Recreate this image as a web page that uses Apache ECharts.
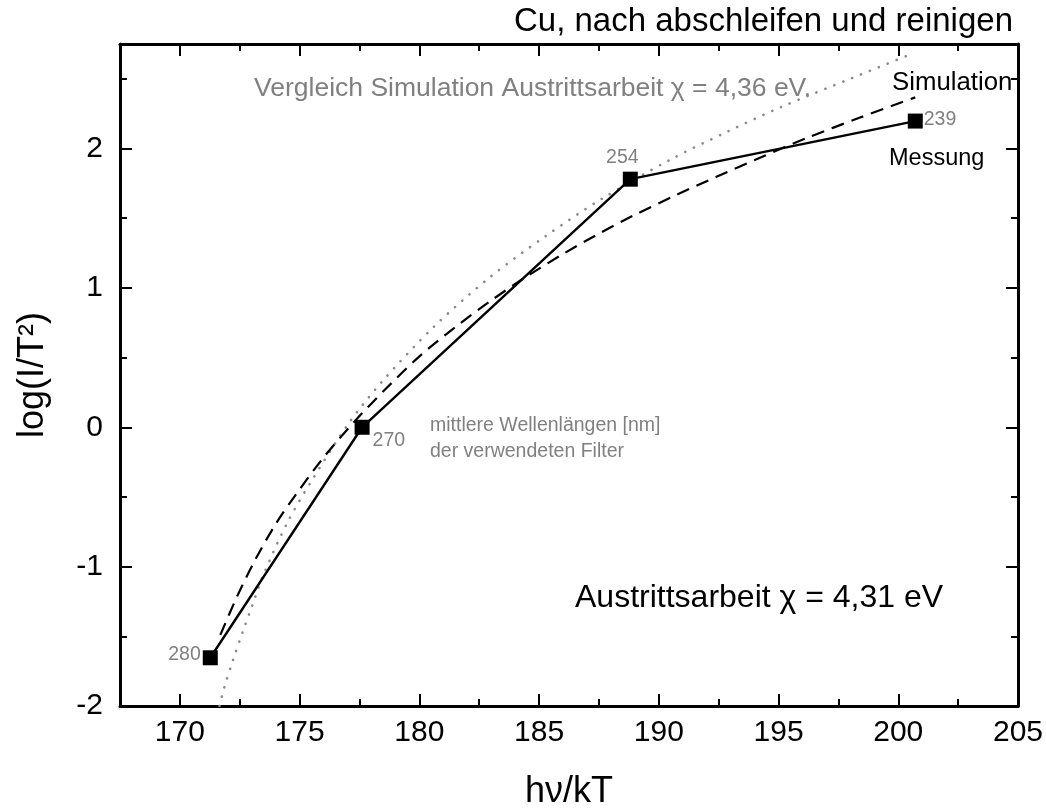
<!DOCTYPE html>
<html>
<head>
<meta charset="utf-8">
<script src="https://cdn.jsdelivr.net/npm/echarts@6/dist/echarts.min.js"></script>
<style>html,body{margin:0;padding:0;background:#fff}#c{width:1046px;height:809px}</style>
</head>
<body>
<div id="c"></div>
<script>
// ---- data ----
const xMajorTicks = [170, 175, 180, 185, 190, 195, 200, 205];
const xMinorTicks = [172.5, 177.5, 182.5, 187.5, 192.5, 197.5, 202.5];
const yMajorTicks = [-2, -1, 0, 1, 2];
const yMinorTicks = [-1.5, -0.5, 0.5, 1.5, 2.5];

// Messung (measured, with filter wavelengths in nm)
const messX = [171.27, 177.61, 188.81, 200.71];
const messY = [-1.654, 0.0, 1.78, 2.197];
const messLabels = ['280', '270', '254', '239'];

// Simulation (dashed)
const simX = [171.69, 172.4, 173.15, 174.0, 174.89, 176.0, 177.26, 178.6, 180.04, 181.5, 182.97, 184.4, 185.89, 187.4, 188.95, 190.7, 192.43, 194.3, 196.19, 198.4, 200.71];
const simY = [-1.49, -1.21, -0.95, -0.695, -0.472, -0.217, 0.035, 0.276, 0.514, 0.718, 0.906, 1.073, 1.232, 1.38, 1.52, 1.664, 1.799, 1.94, 2.076, 2.222, 2.367];

// Vergleich Simulation chi = 4,36 eV (dotted)
const cmpX = [171.66, 171.85, 172.22, 172.62, 173.02, 173.46, 174.5, 175.52, 177.05, 178.44, 180.6, 182.9, 185.26, 187.63, 190.48, 192.85, 195.14, 198.13, 200.43];
const cmpY = [-2.0, -1.87, -1.67, -1.47, -1.28, -1.07, -0.68, -0.379, 0.028, 0.327, 0.72, 1.07, 1.37, 1.64, 1.92, 2.12, 2.30, 2.51, 2.67];

// ---- chart ----
const FONT = "'Liberation Sans', Arial, sans-serif";
const GRAY = '#808080';
const xMin = 167.5, xMax = 205, yMin = -2, yMax = 2.75;

function pairs(xs, ys) { return xs.map((x, i) => [x, ys[i]]); }

function xAx(pos, ticks, len, showLabel, showLine) {
  return {
    type: 'value', position: pos, min: xMin, max: xMax,
    splitLine: { show: false },
    axisLine: { show: showLine, onZero: false, lineStyle: { color: '#000', width: 3 } },
    axisTick: { show: true, inside: true, length: len, customValues: ticks, lineStyle: { color: '#000', width: 2 } },
    axisLabel: showLabel ? { show: true, customValues: ticks, color: '#000', fontSize: 30, fontFamily: FONT, margin: 12 } : { show: false }
  };
}
function yAx(pos, ticks, len, showLabel, showLine) {
  return {
    type: 'value', position: pos, min: yMin, max: yMax,
    splitLine: { show: false },
    axisLine: { show: showLine, onZero: false, lineStyle: { color: '#000', width: 3 } },
    axisTick: { show: true, inside: true, length: len, customValues: ticks, lineStyle: { color: '#000', width: 2 } },
    axisLabel: showLabel ? { show: true, customValues: ticks, color: '#000', fontSize: 30, fontFamily: FONT, margin: 17 } : { show: false }
  };
}

const xAxes = [
  Object.assign(xAx('bottom', xMajorTicks, 12, true, true), {
    name: 'hν/kT', nameLocation: 'middle', nameGap: 68,
    nameTextStyle: { fontSize: 36, fontFamily: FONT, color: '#000' }
  }),
  xAx('bottom', xMinorTicks, 7, false, false),
  xAx('top', xMajorTicks, 12, false, true),
  xAx('top', xMinorTicks, 7, false, false)
];
const yAxes = [
  Object.assign(yAx('left', yMajorTicks, 12, true, true), {
    name: 'log(I/T²)', nameLocation: 'middle', nameGap: 69, nameRotate: 90,
    nameTextStyle: { fontSize: 36, fontFamily: FONT, color: '#000' }
  }),
  yAx('left', yMinorTicks, 7, false, false),
  yAx('right', yMajorTicks, 12, false, true),
  yAx('right', yMinorTicks, 7, false, false)
];

const labelCfg = [
  { position: 'left', distance: 2, offset: [0, -3] },
  { position: 'right', distance: 3, offset: [0, 13] },
  { position: 'top', distance: 4, offset: [-8, 0] },
  { position: 'right', distance: 1, offset: [0, -1] }
];
const messData = messX.map((x, i) => ({
  value: [x, messY[i]],
  label: Object.assign({ show: true, formatter: messLabels[i], color: GRAY, fontSize: 19.5, fontFamily: FONT }, labelCfg[i])
}));

function txt(x, y, text, size, color, align) {
  return { type: 'text', x: x, y: y, z: 10,
    style: { text: text, fontSize: size, fontFamily: FONT, fill: color, align: align || 'left', verticalAlign: 'middle' } };
}

const option = {
  animation: false,
  backgroundColor: '#fff',
  grid: { left: 120, top: 44, width: 898, height: 662, containLabel: false, outerBoundsMode: 'none' },
  xAxis: xAxes,
  yAxis: yAxes,
  series: [
    {
      name: 'Vergleich', type: 'line', xAxisIndex: 0, yAxisIndex: 0,
      data: pairs(cmpX, cmpY), symbol: 'none', smooth: 0.3, z: 2,
      lineStyle: { color: '#888', width: 2.6, type: [0.1, 9.5], cap: 'round' }
    },
    {
      name: 'Simulation', type: 'line', xAxisIndex: 0, yAxisIndex: 0,
      data: pairs(simX, simY), symbol: 'none', smooth: 0.3, z: 3,
      lineStyle: { color: '#000', width: 2.2, type: [13, 8] }
    },
    {
      name: 'Messung', type: 'line', xAxisIndex: 0, yAxisIndex: 0,
      data: messData, symbol: 'rect', symbolSize: 15, z: 4,
      itemStyle: { color: '#000' },
      lineStyle: { color: '#000', width: 2.4 }
    }
  ],
  graphic: [
    txt(1013, 22, 'Cu, nach abschleifen und reinigen', 33, '#000', 'right'),
    txt(254, 89, 'Vergleich Simulation Austrittsarbeit χ = 4,36 eV.', 26.5, GRAY),
    txt(892, 83, 'Simulation', 25.8, '#000'),
    txt(889, 159, 'Messung', 23.5, '#000'),
    txt(430, 426, 'mittlere Wellenlängen [nm]', 19.5, GRAY),
    txt(430, 452, 'der verwendeten Filter', 19.5, GRAY),
    txt(575, 598, 'Austrittsarbeit χ = 4,31 eV', 32, '#000')
  ]
};

const chart = echarts.init(document.getElementById('c'), null, { renderer: 'canvas' });
chart.setOption(option);
</script>
</body>
</html>
